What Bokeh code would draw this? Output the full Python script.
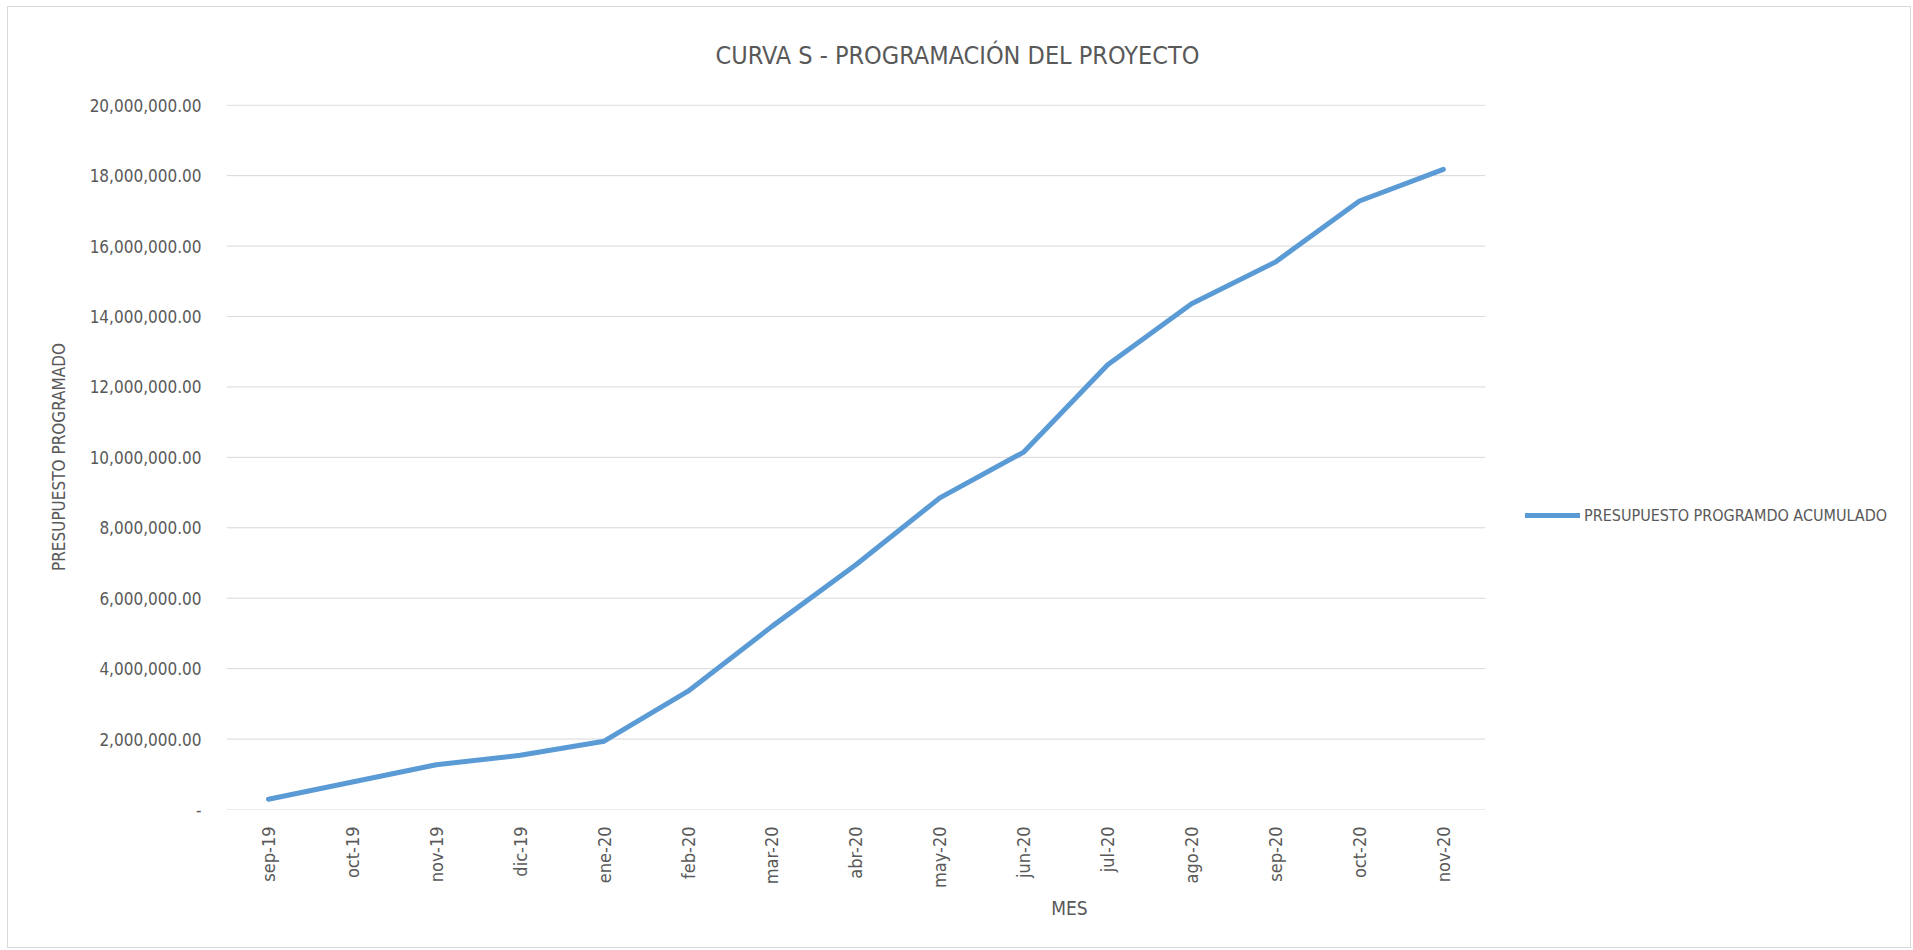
from bokeh.plotting import figure
from bokeh.models import (FixedTicker, NumeralTickFormatter, Legend, LegendItem, Title,
                          Range1d, ColumnDataSource)
from bokeh.embed import file_html
from bokeh.resources import INLINE

months = ["sep-19", "oct-19", "nov-19", "dic-19", "ene-20", "feb-20", "mar-20", "abr-20",
          "may-20", "jun-20", "jul-20", "ago-20", "sep-20", "oct-20", "nov-20"]
acumulado = [290000, 780000, 1270000, 1540000, 1940000, 3360000, 5200000, 6950000,
             8850000, 10150000, 12630000, 14360000, 15550000, 17280000, 18180000]
y_ticks = [0, 2000000, 4000000, 6000000, 8000000, 10000000, 12000000, 14000000,
           16000000, 18000000, 20000000]

FONT = "'Liberation Sans Narrow', 'DejaVu Sans Condensed', 'Roboto', sans-serif"
TXT = "#595959"
GRID = "#D9D9D9"
BLUE = "#5B9BD5"

n = len(months)
xs = [i + 0.5 for i in range(n)]
src = ColumnDataSource(dict(x=xs, y=acumulado))
grid_src = ColumnDataSource(dict(x0=[0] * len(y_ticks), x1=[n] * len(y_ticks),
                                 y=y_ticks))

# plot area (category band 0..n) + free space on the right for the legend
p = figure(width=1904, height=942, output_backend="svg", toolbar_location=None,
           x_range=Range1d(0, 20.09), y_range=Range1d(0, 20020000),
           min_border_left=218, min_border_right=0, min_border_top=96,
           min_border_bottom=140)
p.styles = {"border": "1px solid #D9D9D9", "margin-left": "7px", "margin-top": "6px"}
p.outline_line_color = None
p.background_fill_color = "white"
p.border_fill_color = "white"

t = Title(text="CURVA S - PROGRAMACIÓN DEL PROYECTO", align="left", offset=489,
          vertical_align="top", text_font=FONT, text_font_size="25px",
          text_font_style="normal", text_color=TXT, standoff=66)
p.add_layout(t, "above")

# horizontal gridlines limited to the category band
p.segment(x0="x0", x1="x1", y0="y", y1="y", source=grid_src, line_color=GRID,
          line_width=1)

r = p.line("x", "y", source=src, line_width=5, line_color=BLUE,
           line_cap="round", line_join="round")

# axes
p.xaxis.ticker = FixedTicker(ticks=xs)
p.xaxis.major_label_overrides = {x: m for x, m in zip(xs, months)}
p.xaxis.major_label_orientation = 1.5708
p.xaxis.major_tick_line_color = None
p.xaxis.minor_tick_line_color = None
p.xaxis.axis_line_color = None
p.xaxis.major_label_text_font = FONT
p.xaxis.major_label_text_font_size = "18px"
p.xaxis.major_label_text_color = TXT
p.xaxis.major_label_standoff = 11
p.xaxis.axis_label = "MES"
p.xaxis.axis_label_text_font = FONT
p.xaxis.axis_label_text_font_size = "19px"
p.xaxis.axis_label_text_font_style = "normal"
p.xaxis.axis_label_text_color = TXT
p.xaxis.axis_label_standoff = 6

p.yaxis.ticker = FixedTicker(ticks=y_ticks)
p.yaxis.formatter = NumeralTickFormatter(format="0,0.00")
p.yaxis.major_label_overrides = {0: "-"}
p.yaxis.major_tick_line_color = None
p.yaxis.minor_tick_line_color = None
p.yaxis.axis_line_color = None
p.yaxis.major_label_text_font = FONT
p.yaxis.major_label_text_font_size = "17px"
p.yaxis.major_label_text_color = TXT
p.yaxis.major_label_standoff = 19
p.yaxis.axis_label = "PRESUPUESTO PROGRAMADO"
p.yaxis.axis_label_text_font = FONT
p.yaxis.axis_label_text_font_size = "17px"
p.yaxis.axis_label_text_font_style = "normal"
p.yaxis.axis_label_text_color = TXT
p.yaxis.axis_label_standoff = 18

p.xgrid.grid_line_color = None
p.ygrid.grid_line_color = None

legend = Legend(items=[LegendItem(label="PRESUPUESTO PROGRAMDO ACUMULADO", renderers=[r])],
                location=(1299, 284), border_line_color=None, background_fill_alpha=0,
                label_text_font=FONT, label_text_font_size="16px", label_text_color=TXT,
                glyph_width=55, label_standoff=4, padding=0, margin=0)
p.add_layout(legend, "center")

open("out.html", "w").write(file_html(p, INLINE))
